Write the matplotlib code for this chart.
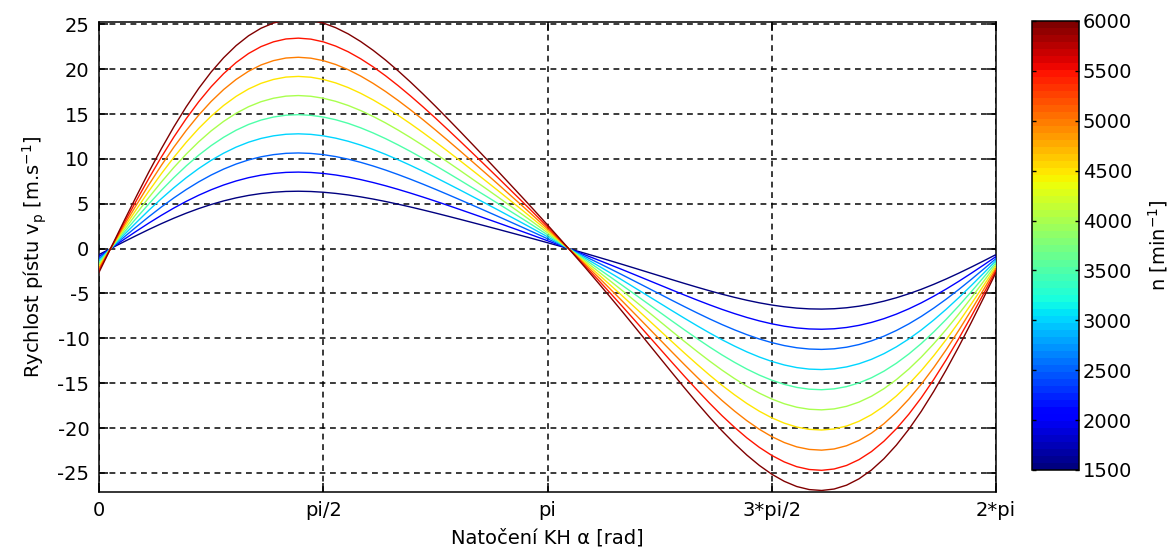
import matplotlib.pyplot as plt
import numpy as np
from matplotlib import cm, colors

plt.rcParams['font.family'] = ['DejaVu Sans']
plt.rcParams['font.size'] = 14
plt.rcParams['axes.unicode_minus'] = False

# natoceni klikove hridele, krok 5 stupnu
alfa_deg = list(range(0, 361, 5))
# rychlost pistu pri 6000 min^-1 [m/s]
v_6000 = [-2.64, 0.22, 3.06, 5.84, 8.55, 11.13, 13.56, 15.81, 17.86, 19.69,
          21.28, 22.63, 23.73, 24.57, 25.15, 25.50, 25.60, 25.48, 25.15, 24.63,
          23.94, 23.09, 22.11, 21.02, 19.83, 18.57, 17.25, 15.88, 14.47, 13.04,
          11.59, 10.13, 8.66, 7.17, 5.68, 4.17, 2.64, 1.09, -0.48, -2.07,
          -3.70, -5.35, -7.02, -8.72, -10.43, -12.14, -13.85, -15.54, -17.19, -18.79,
          -20.31, -21.72, -23.02, -24.17, -25.15, -25.94, -26.52, -26.86, -26.96, -26.80,
          -26.37, -25.66, -24.68, -23.42, -21.90, -20.13, -18.13, -15.91, -13.51, -10.95,
          -8.26, -5.48, -2.64]
# otacky motoru [min^-1]
otacky = [1500, 2000, 2500, 3000, 3500, 4000, 4500, 5000, 5500, 6000]

x_ticks = [0, np.pi / 2, np.pi, 3 * np.pi / 2, 2 * np.pi]
x_labels = ['0', 'pi/2', 'pi', '3*pi/2', '2*pi']
y_ticks = list(range(-25, 26, 5))
cb_ticks = list(range(1500, 6001, 500))

alfa = np.deg2rad(alfa_deg)
v_ref = np.array(v_6000)

cmap = plt.get_cmap('jet', 64)
norm = colors.Normalize(vmin=min(otacky), vmax=max(otacky))

fig = plt.figure(figsize=(11.76, 5.52), dpi=100)
ax = fig.add_axes([0.0842, 0.1092, 0.7628, 0.8515])

# rychlost je umerna otackam
for n in otacky:
    ax.plot(alfa, v_ref * n / 6000, color=cmap(norm(n)), lw=1.0, zorder=3)

ax.set_xlim(0, 2 * np.pi)
ax.set_ylim(-27.1, 25.3)
ax.set_xticks(x_ticks)
ax.set_xticklabels(x_labels)
ax.set_yticks(y_ticks)
ax.grid(True, color='k', linestyle=(0, (3.5, 2.8)), lw=1.2, alpha=0.9)
ax.tick_params(direction='in', top=True, right=True, length=6.5, width=1.1, pad=7)
for s in ax.spines.values():
    s.set_linewidth(1.1)

ax.set_xlabel('Natočení KH α [rad]', labelpad=6)
ax.set_ylabel(r'Rychlost pístu v$_\mathrm{p}$ [m.s$^{-1}$]', labelpad=6)

cax = fig.add_axes([0.8772, 0.1486, 0.040, 0.8134])
sm = cm.ScalarMappable(norm=norm, cmap=cmap)
cb = fig.colorbar(sm, cax=cax, ticks=cb_ticks)
cb.outline.set_linewidth(1.1)
cax.tick_params(direction='in', left=True, right=True, length=3, width=1.0, pad=3)
cb.set_label(r'n [min$^{-1}$]', labelpad=10)

fig.savefig('out.png', dpi=100)
